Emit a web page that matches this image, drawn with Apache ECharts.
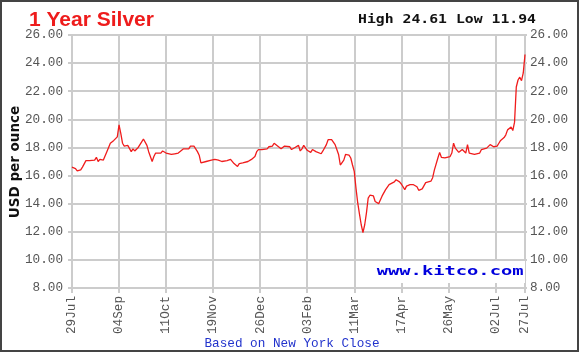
<!DOCTYPE html>
<html><head><meta charset="utf-8">
<script src="https://cdn.jsdelivr.net/npm/echarts@6/dist/echarts.min.js"></script>
<style>html,body{margin:0;padding:0;background:#fff}#c{width:579px;height:352px}</style>
</head><body><div id="c"></div>
<script>
// Tick labels on the x axis (weekday index from 29 Jul 2019)
const tickDays = [0,27,54,81,108,135,162,189,216,243,260];
const tickLabels = ['29Jul','04Sep','11Oct','19Nov','26Dec','03Feb','11Mar','17Apr','26May','02Jul','27Jul'];
// Price series: weekday index and USD per ounce
const days = [0,2,3,5,6,8,9,10,11,13,14,15,16,18,19,20,22,23,24,26,27,28,29,30,32,33,34,35,36,38,39,40,41,43,44,46,47,48,49,51,52,54,55,57,58,59,61,62,64,65,67,68,69,70,72,73,74,75,77,78,80,82,84,86,87,89,91,93,94,95,96,98,99,101,102,103,105,106,107,109,110,112,113,115,116,118,119,120,122,123,125,126,128,130,131,132,133,135,137,138,140,141,143,144,146,147,149,150,151,152,153,154,156,157,159,160,161,162,163,164,165,166,167,168,169,170,171,173,174,176,177,178,180,181,182,183,185,186,188,189,191,192,194,195,196,198,199,201,203,204,206,207,208,210,211,212,214,215,217,218,219,220,222,223,224,226,227,228,229,231,232,234,235,236,238,239,240,242,244,245,246,248,249,250,252,253,254,255,256,257,258,259,260];
const prices = [16.6,16.5,16.33,16.4,16.6,17.06,17.0,17.06,17.0,17.1,17.3,17.0,17.15,17.1,17.2,17.7,18.3,18.35,18.5,18.75,19.6,19.0,18.3,18.1,18.15,18.1,17.7,17.9,17.75,18.0,17.9,18.4,18.6,18.15,17.7,17.0,17.35,17.6,17.6,17.6,17.75,17.6,17.7,17.5,17.55,17.55,17.6,17.65,17.9,17.9,17.9,18.1,18.15,18.1,17.7,17.45,16.9,16.9,17.0,17.06,17.1,17.15,17.1,17.0,17.0,17.06,17.15,16.85,16.75,16.65,16.85,16.9,17.0,17.0,17.06,17.15,17.35,17.7,17.85,17.85,17.9,17.9,18.05,18.1,18.3,18.1,18.05,17.9,18.1,18.0,18.05,17.85,18.0,18.15,17.75,17.9,18.15,17.8,17.65,17.85,17.7,17.7,17.55,17.75,18.2,18.55,18.55,18.65,18.2,17.85,17.5,16.75,17.1,17.5,17.45,17.25,16.75,16.3,15.1,14.05,13.25,12.5,11.94,12.5,13.35,14.4,14.6,14.55,14.15,14.0,14.05,14.55,15.0,15.1,15.35,15.4,15.55,15.7,15.55,15.4,15.0,15.25,15.35,15.25,15.35,15.2,14.95,15.05,15.5,15.6,15.6,15.85,16.4,17.25,17.65,17.3,17.25,17.2,17.35,17.6,18.3,17.95,17.65,17.6,17.85,17.6,18.2,17.6,17.55,17.5,17.5,17.6,17.85,17.9,17.95,17.9,18.2,18.05,18.1,18.3,18.5,18.7,18.9,19.25,19.45,19.2,19.8,22.3,22.8,23.0,22.75,23.3,24.61];
const yMin = 8, yMax = 26, yStep = 2;
const titleText = '1 Year Silver';
const highLowText = 'High 24.61 Low 11.94';
const yName = 'USD per ounce';
const siteText = 'www.kitco.com';
const footText = 'Based on New York Close';

const gridColor = '#cccccc';
const labelFont = 'Liberation Mono';
const chart = echarts.init(document.getElementById('c'), null, {renderer: 'canvas'});
const yAxisBase = {
  type: 'value', min: yMin, max: yMax, interval: yStep,
  axisLine: {show: true, lineStyle: {color: gridColor, width: 2}},
  axisTick: {show: true, length: 4, lineStyle: {color: gridColor, width: 2}},
  axisLabel: {color: '#555', fontFamily: labelFont, fontSize: 12.7, formatter: v => v.toFixed(2)},
};
chart.setOption({
  animation: false,
  backgroundColor: '#fff',
  grid: {left: 72, right: 54, top: 35, bottom: 64, show: true, borderColor: gridColor, borderWidth: 2},
  xAxis: {
    type: 'value', min: 0, max: 260, interval: 27,
    axisLine: {show: true, lineStyle: {color: gridColor, width: 2}},
    axisTick: {show: true, length: 5, lineStyle: {color: gridColor, width: 2}},
    splitLine: {show: true, lineStyle: {color: gridColor, width: 2}},
    axisLabel: {
      rotate: 90, margin: 8, color: '#555', fontFamily: labelFont, fontSize: 12.7,
      showMinLabel: true, showMaxLabel: true,
      formatter: v => { const i = tickDays.indexOf(Math.round(v)); return i >= 0 ? tickLabels[i] : ''; }
    }
  },
  yAxis: [
    Object.assign({}, yAxisBase, {position: 'left', splitLine: {show: true, lineStyle: {color: gridColor, width: 2}}, axisLabel: Object.assign({}, yAxisBase.axisLabel, {margin: 9})}),
    Object.assign({}, yAxisBase, {position: 'right', splitLine: {show: false}, axisTick: {show: true, length: 2, lineStyle: {color: gridColor, width: 2}}, axisLabel: Object.assign({}, yAxisBase.axisLabel, {margin: 5})})
  ],
  series: [{
    type: 'line', yAxisIndex: 0, showSymbol: false, symbol: 'none',
    lineStyle: {color: '#f01c1c', width: 1.3},
    data: days.map((d, i) => [d, prices[i]])
  }],
  graphic: [
    {type: 'rect', shape: {x: 1, y: 1, width: 577, height: 350}, style: {fill: 'none', stroke: '#444', lineWidth: 2}, z: 100},
    {type: 'text', x: 29, y: 20.5, style: {text: titleText, font: 'bold 21px "Liberation Sans"', fill: '#ee1c1c', verticalAlign: 'middle', align: 'left'}},
    {type: 'text', x: 358, y: 19.5, scaleX: 1.137, style: {text: highLowText, font: 'bold 13px "DejaVu Sans Mono"', fill: '#111', verticalAlign: 'middle', align: 'left'}},
    {type: 'text', x: 15, y: 162, rotation: Math.PI / 2, style: {text: yName, font: 'bold 13.5px "DejaVu Sans"', fill: '#111', verticalAlign: 'middle', align: 'center'}},
    {type: 'text', x: 525, y: 272, scaleX: 1.5, z: 50, style: {text: siteText, font: 'bold 12.5px "DejaVu Sans Mono"', fill: '#0000dd', verticalAlign: 'middle', align: 'right', backgroundColor: '#fff', padding: [3, 1, 6, 1]}},
    {type: 'text', x: 292, y: 344, style: {text: footText, font: '12.7px "Liberation Mono"', fill: '#2233cc', verticalAlign: 'middle', align: 'center'}}
  ]
});
</script></body></html>
